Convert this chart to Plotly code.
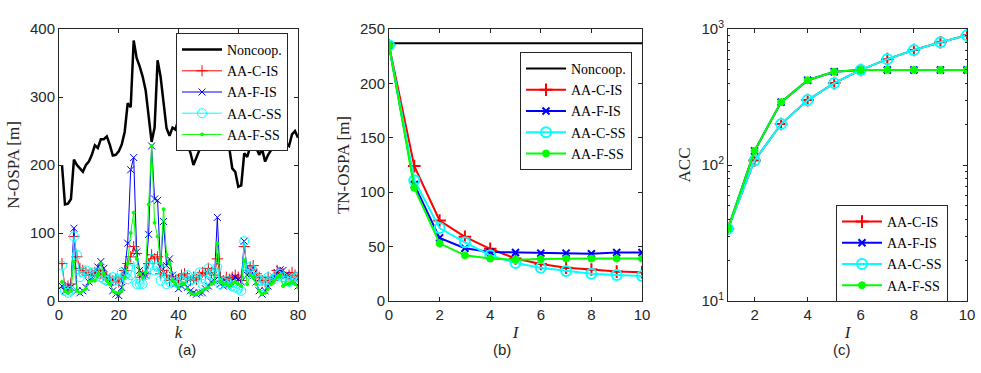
import plotly.graph_objects as go
from plotly.subplots import make_subplots

# ---- data: panel (a), N-OSPA per time step k ----
k = list(range(1, 81))
noncoop_a = [200, 142, 143, 150, 208, 200, 195, 190, 200, 205,
             215, 229, 225, 238, 238, 242, 230, 214, 215, 220,
             230, 249, 291, 285, 383, 357, 345, 330, 310, 275,
             234, 255, 354, 330, 290, 254, 243, 255, 252, 268,
             245, 232, 230, 218, 200, 210, 222, 225, 225, 235,
             237, 237, 260, 252, 242, 230, 225, 195, 190, 168,
             170, 217, 212, 227, 223, 226, 215, 223, 205, 215,
             222, 230, 238, 245, 232, 232, 228, 245, 250, 240]
c_is_a = [55, 20, 22, 25, 95, 65, 48, 45, 42, 38,
          40, 42, 45, 40, 38, 35, 32, 30, 32, 28,
          35, 45, 55, 65, 80, 70, 35, 38, 40, 55,
          68, 62, 65, 40, 45, 38, 30, 35, 30, 32,
          38, 40, 35, 30, 35, 32, 38, 42, 40, 48,
          42, 38, 62, 35, 30, 35, 32, 35, 38, 35,
          30, 80, 45, 50, 52, 40, 35, 30, 28, 35,
          30, 35, 45, 42, 40, 35, 38, 42, 38, 35]
f_is_a = [22, 15, 18, 20, 107, 15, 12, 15, 20, 28,
          35, 38, 50, 58, 48, 35, 28, 15, 10, 8,
          20, 45, 85, 193, 211, 72, 45, 40, 38, 98,
          228, 150, 148, 50, 117, 52, 62, 38, 25, 18,
          22, 25, 20, 15, 12, 10, 12, 12, 18, 22,
          28, 30, 123, 25, 22, 28, 25, 30, 35, 32,
          28, 88, 38, 45, 40, 28, 15, 10, 15, 22,
          30, 35, 42, 46, 45, 38, 35, 30, 28, 22]
c_ss_a = [52, 15, 12, 15, 95, 68, 35, 42, 45, 40,
          42, 38, 42, 35, 32, 30, 32, 35, 30, 32,
          42, 38, 32, 38, 58, 25, 25, 25, 38, 50,
          62, 45, 50, 30, 45, 25, 28, 35, 28, 25,
          30, 35, 38, 30, 32, 35, 42, 25, 30, 48,
          40, 35, 50, 25, 28, 30, 25, 22, 20, 18,
          15, 88, 40, 50, 45, 35, 30, 22, 30, 35,
          30, 32, 38, 40, 35, 30, 28, 32, 35, 35]
f_ss_a = [28, 15, 12, 15, 58, 15, 12, 15, 18, 28,
          30, 30, 38, 55, 40, 30, 25, 15, 12, 12,
          15, 35, 55, 100, 130, 62, 40, 35, 42, 142,
          228, 115, 95, 55, 135, 68, 55, 30, 25, 20,
          25, 25, 18, 12, 10, 10, 12, 15, 18, 20,
          25, 28, 85, 28, 25, 25, 22, 25, 28, 25,
          22, 60, 25, 38, 35, 25, 15, 10, 12, 18,
          25, 30, 35, 38, 22, 25, 25, 28, 25, 20]

# ---- data: panel (b), TN-OSPA vs iterations I ----
iters_b = list(range(0, 11))
noncoop_b = [237] * 11
c_is_b = [235, 124, 74, 59, 48, 39, 34, 30.5, 29, 27, 26.5]
f_is_b = [235, 107, 58, 48.5, 45, 44.5, 44, 44, 43.5, 44.5, 44.5]
c_ss_b = [235, 111, 67, 54, 42, 35, 30.5, 27.5, 25, 24, 23]
f_ss_b = [235, 104, 53, 42, 39, 38, 38.5, 39, 39, 39, 39]

# ---- data: panel (c), ACC vs iterations I ----
iters_c = list(range(1, 11))
c_acc = [34, 108, 200, 300, 400, 500, 600, 700, 800, 900]
f_acc = [34, 127, 290, 420, 485, 500, 500, 500, 500, 500]
acc_ticks = [10, 100, 1000]
acc_ticktext = ["10<sup>1</sup>", "10<sup>2</sup>", "10<sup>3</sup>"]
acc_minor = [20, 30, 40, 50, 60, 70, 80, 90, 200, 300, 400, 500, 600, 700, 800, 900]

RED, BLUE, CYAN, GREEN = "#FF0000", "#0000FF", "#00FFFF", "#00FF00"
AXC = "#262626"
SERIF = "Liberation Serif"
SANS = "Liberation Sans"
W, H = 981, 373

fig = make_subplots(rows=1, cols=3)


def add(x, y, name, color, symbol, msize, lw, col, legend, mlw=1):
    if symbol is None:
        mode, marker = "lines", None
    else:
        mode = "lines+markers"
        marker = dict(symbol=symbol, size=msize, color=color,
                      line=dict(color=color, width=mlw))
    fig.add_trace(go.Scatter(x=x, y=y, name=name, mode=mode,
                             line=dict(color=color, width=lw),
                             marker=marker, legend=legend),
                  row=1, col=col)


# panel (a)
add(k, noncoop_a, "Noncoop.", "black", None, 0, 2.5, 1, "legend")
add(k, c_is_a, "AA-C-IS", RED, "cross-thin-open", 8, 1, 1, "legend")
add(k, f_is_a, "AA-F-IS", BLUE, "x-thin-open", 7, 1, 1, "legend")
add(k, c_ss_a, "AA-C-SS", CYAN, "circle-open", 9, 1, 1, "legend")
add(k, f_ss_a, "AA-F-SS", GREEN, "circle", 3, 1, 1, "legend")

# panel (b)
add(iters_b, noncoop_b, "Noncoop.", "black", None, 0, 2, 2, "legend2")
add(iters_b, c_is_b, "AA-C-IS", RED, "cross-thin-open", 9, 2, 2, "legend2", 2)
add(iters_b, f_is_b, "AA-F-IS", BLUE, "x-thin-open", 7, 2, 2, "legend2", 2)
add(iters_b, c_ss_b, "AA-C-SS", CYAN, "circle-open", 10, 2, 2, "legend2", 2)
add(iters_b, f_ss_b, "AA-F-SS", GREEN, "circle", 7, 2, 2, "legend2")

# panel (c)
add(iters_c, c_acc, "AA-C-IS", RED, "cross-thin-open", 9, 2, 3, "legend3", 2)
add(iters_c, f_acc, "AA-F-IS", BLUE, "x-thin-open", 7, 2, 3, "legend3", 2)
add(iters_c, c_acc, "AA-C-SS", CYAN, "circle-open", 10, 2, 3, "legend3", 2)
add(iters_c, f_acc, "AA-F-SS", GREEN, "circle", 7, 2, 3, "legend3")

axis_style = dict(showline=True, linecolor=AXC, linewidth=1, mirror="ticks",
                  ticks="inside", ticklen=4, tickcolor=AXC, showgrid=False,
                  zeroline=False, automargin=False,
                  tickfont=dict(family=SANS, size=15, color=AXC))
title_font = dict(family=SERIF, size=17, color=AXC)

ytop, ybot = 1 - 29 / H, 1 - 301 / H
fig.update_xaxes(axis_style)
fig.update_yaxes(axis_style)

fig.update_xaxes(domain=[59 / W, 298 / W], range=[0, 80], tickvals=[0, 20, 40, 60, 80],
                 title=dict(text="<i>k</i>", font=title_font, standoff=4), row=1, col=1)
fig.update_yaxes(domain=[ybot, ytop], range=[0, 400], tickvals=[0, 100, 200, 300, 400],
                 title=dict(text="N-OSPA [m]", font=title_font, standoff=6), row=1, col=1)

fig.update_xaxes(domain=[389 / W, 642 / W], range=[0, 10], tickvals=[0, 2, 4, 6, 8, 10],
                 title=dict(text="<i>I</i>", font=title_font, standoff=4), row=1, col=2)
fig.update_yaxes(domain=[ybot, ytop], range=[0, 250], tickvals=[0, 50, 100, 150, 200, 250],
                 title=dict(text="TN-OSPA [m]", font=title_font, standoff=6), row=1, col=2)

fig.update_xaxes(domain=[728 / W, 967 / W], range=[1, 10], tickvals=[2, 4, 6, 8, 10],
                 title=dict(text="<i>I</i>", font=title_font, standoff=4), row=1, col=3)
fig.update_yaxes(domain=[ybot, ytop], type="log", range=[1, 3],
                 tickvals=acc_ticks, ticktext=acc_ticktext,
                 minor=dict(tickmode="array", tickvals=acc_minor, ticks="inside",
                            ticklen=2, tickcolor=AXC, showgrid=False),
                 title=dict(text="ACC", font=title_font, standoff=6), row=1, col=3)

legend_style = dict(bgcolor="white", bordercolor=AXC, borderwidth=1,
                    font=dict(family=SERIF, size=14, color="black"),
                    itemwidth=40, tracegroupgap=0, xanchor="right", yanchor="top")

for lbl, xc in [("(a)", 176), ("(b)", 502), ("(c)", 853)]:
    fig.add_annotation(text=lbl, x=xc / W, y=1 - 360 / H, xref="paper", yref="paper",
                       showarrow=False, font=dict(family=SANS, size=15, color=AXC))

fig.update_layout(
    width=W, height=H,
    margin=dict(l=0, r=0, t=0, b=0),
    paper_bgcolor="white", plot_bgcolor="white",
    legend=dict(legend_style, x=288 / W, y=1 - 33 / H),
    legend2=dict(legend_style, x=632 / W, y=1 - 52 / H),
    legend3=dict(legend_style, x=948 / W, y=1 - 205 / H),
)

fig.write_html("out.html", config={"displayModeBar": False},
               post_script="document.body.style.margin='0px';")
